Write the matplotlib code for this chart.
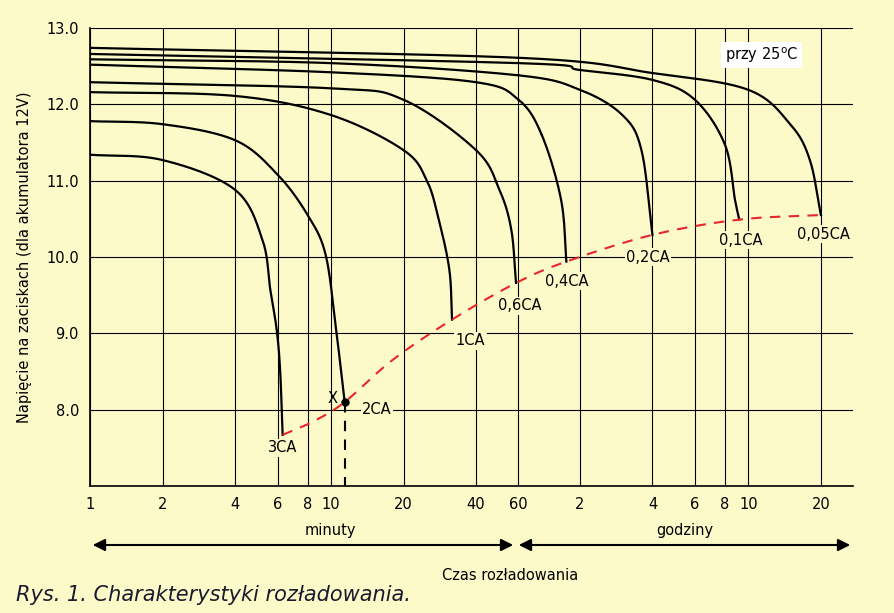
import numpy as np
import matplotlib.pyplot as plt

BG = '#fdfac9'
RED = '#e8262b'

# discharge curves: time in minutes, voltage in V
t_3ca = [1, 2, 4, 5.2, 5.6, 5.95, 6.15, 6.3]
v_3ca = [11.34, 11.27, 10.88, 10.22, 9.57, 9.05, 8.52, 7.67]
t_2ca = [1, 2, 4, 6, 8, 9.5, 10.5, 11.4]
v_2ca = [11.78, 11.74, 11.53, 11.08, 10.55, 10.03, 9.05, 8.1]
t_1ca = [1, 4, 10, 20, 25, 28, 31, 31.8]
v_1ca = [12.16, 12.11, 11.86, 11.4, 11.0, 10.49, 9.83, 9.18]
t_06ca = [1, 10, 20, 40, 50, 56, 58.6]
v_06ca = [12.29, 12.21, 12.06, 11.4, 10.88, 10.36, 9.66]
t_04ca = [1, 10, 40, 60, 78, 97, 103]
v_04ca = [12.52, 12.42, 12.29, 12.06, 11.6, 10.75, 9.94]
t_02ca = [1, 10, 60, 120, 180, 216, 240]
v_02ca = [12.59, 12.54, 12.38, 12.19, 11.86, 11.4, 10.29]
t_01ca = [1, 60, 120, 240, 360, 480, 528, 550]
v_01ca = [12.66, 12.54, 12.45, 12.32, 12.06, 11.47, 10.75, 10.49]
t_005ca = [1, 60, 240, 600, 900, 1080, 1200]
v_005ca = [12.74, 12.61, 12.41, 12.19, 11.73, 11.27, 10.55]

curves_t = [t_3ca, t_2ca, t_1ca, t_06ca, t_04ca, t_02ca, t_01ca, t_005ca]
curves_v = [v_3ca, v_2ca, v_1ca, v_06ca, v_04ca, v_02ca, v_01ca, v_005ca]
labels = ['3CA', '2CA', '1CA', '0,6CA', '0,4CA', '0,2CA', '0,1CA', '0,05CA']

# end-voltage line (red dashed)
t_end = [6.3, 8.5, 11.4, 18, 31.8, 58.6, 103, 240, 550, 1200]
v_end = [7.67, 7.85, 8.1, 8.65, 9.18, 9.66, 9.94, 10.29, 10.49, 10.55]

min_ticks = [1, 2, 4, 6, 8, 10, 20, 40, 60]
hour_ticks = [2, 4, 6, 8, 10, 20]


def fwd(m):
    lm = np.log10(np.clip(m, 1e-3, None))
    frac = np.clip((lm - np.log10(60)) / np.log10(2), 0, 1)
    return lm - 0.046 * frac


_grid = np.logspace(-1, 4, 4000)
_pos = fwd(_grid)


def inv(p):
    return np.interp(p, _pos, _grid)


def smooth(t, v, n=30):
    # Catmull-Rom through the points, in axis (log) space
    p = np.column_stack([fwd(np.array(t, float)), np.array(v, float)])
    ext = np.vstack([2 * p[0] - p[1], p, 2 * p[-1] - p[-2]])
    out = []
    for i in range(1, len(ext) - 2):
        p0, p1, p2, p3 = ext[i - 1], ext[i], ext[i + 1], ext[i + 2]
        s = np.linspace(0, 1, n)[:, None]
        c = 0.5 * ((2 * p1) + (-p0 + p2) * s + (2 * p0 - 5 * p1 + 4 * p2 - p3) * s ** 2
                   + (-p0 + 3 * p1 - 3 * p2 + p3) * s ** 3)
        out.append(c)
    c = np.vstack(out)
    return inv(c[:, 0]), c[:, 1]


fig = plt.figure(figsize=(8.94, 6.13), dpi=100, facecolor=BG)
ax = fig.add_axes([0.1007, 0.2072, 0.8533, 0.7471], facecolor=BG)
ax.set_xscale('function', functions=(fwd, inv))
ax.set_xlim(1, 1629)
ax.set_ylim(7.0, 13.0)

xt = min_ticks + [h * 60 for h in hour_ticks]
ax.set_xticks(xt)
ax.set_xticklabels([str(v) for v in min_ticks] + [str(v) for v in hour_ticks])
ax.minorticks_off()
ax.set_yticks([8, 9, 10, 11, 12, 13])
ax.set_yticklabels(['8.0', '9.0', '10.0', '11.0', '12.0', '13.0'])
ax.tick_params(length=0, labelsize=10.5, pad=8)
for x in xt:
    ax.axvline(x, color='black', lw=0.8, zorder=1)
for y in [8, 9, 10, 11, 12, 13]:
    ax.axhline(y, color='black', lw=0.8, zorder=1)
for s in ['top', 'right']:
    ax.spines[s].set_visible(False)
ax.spines['left'].set_linewidth(1.2)
ax.spines['bottom'].set_linewidth(1.2)

for t, v in zip(curves_t, curves_v):
    xs, ys = smooth(t, v)
    ax.plot(xs, ys, color='black', lw=1.6, zorder=3)

xs, ys = smooth(t_end, v_end)
ax.plot(xs, ys, color=RED, lw=1.5, ls=(0, (5, 4)), zorder=4)

# point X and dashed drop line
ax.plot([t_2ca[-1]], [v_2ca[-1]], 'o', color='black', ms=5, zorder=5)
ax.plot([t_2ca[-1], t_2ca[-1]], [v_2ca[-1], 7.0], color='black', lw=1.5,
        ls=(0, (5, 4)), zorder=3)
ax.text(10.2, 8.15, 'X', fontsize=10.5, ha='center', va='center')

lab_pos = [(6.3, 7.5), (15.5, 8.0), (38, 8.9), (61, 9.36), (104, 9.68),
           (230, 10.0), (560, 10.22), (1230, 10.3)]
for (x, y), s in zip(lab_pos, labels):
    ax.text(x, y, s, fontsize=10.5, ha='center', va='center', zorder=6,
            bbox=dict(boxstyle='square,pad=0.1', fc=BG, ec='none'))

ax.text(0.88, 0.941, 'przy 25$^{\\mathrm{o}}$C', transform=ax.transAxes,
        fontsize=10.5, ha='center', va='center', zorder=6,
        bbox=dict(boxstyle='square,pad=0.25', fc='white', ec='none'))

ax.set_ylabel('Napięcie na zaciskach (dla akumulatora 12V)', fontsize=10.5,
              labelpad=10)

# bottom annotations (figure pixel coordinates)
H = 613.0
def fy(py):
    return 1 - py / H

fig.text(330 / 894, fy(530), 'minuty', fontsize=10.5, ha='center', va='center')
fig.text(685 / 894, fy(530), 'godziny', fontsize=10.5, ha='center', va='center')
arr = dict(arrowstyle='<|-|>', color='black', lw=1.5, mutation_scale=18)
ax.annotate('', xy=(90 / 894, fy(545)), xytext=(516 / 894, fy(545)),
            xycoords='figure fraction', arrowprops=arr)
ax.annotate('', xy=(516 / 894, fy(545)), xytext=(853 / 894, fy(545)),
            xycoords='figure fraction', arrowprops=arr)
fig.text(510 / 894, fy(575), 'Czas rozładowania', fontsize=10.5, ha='center',
         va='center')
fig.text(16 / 894, fy(595), 'Rys. 1. Charakterystyki rozładowania.',
         fontsize=15, style='italic', ha='left', va='center', color='#1a1a2e')

fig.savefig('out.png', dpi=100, facecolor=BG)
